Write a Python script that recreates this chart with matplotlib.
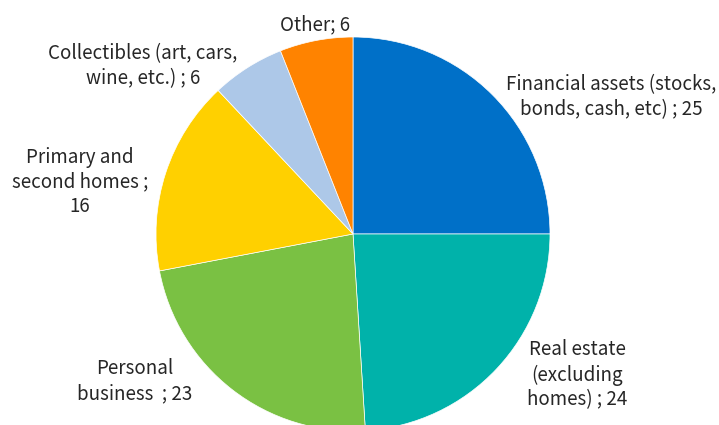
import matplotlib.pyplot as plt

labels = ["Financial assets (stocks,\nbonds, cash, etc) ; 25",
          "Real estate\n(excluding\nhomes) ; 24",
          "Personal\nbusiness  ; 23",
          "Primary and\nsecond homes ;\n16",
          "Collectibles (art, cars,\nwine, etc.) ; 6",
          "Other; 6"]
values = [25, 24, 23, 16, 6, 6]
colors = ["#0070C8", "#00B2AA", "#7AC143", "#FFD000", "#ADC8E8", "#FF8300"]

# label centres in pixels (from top-left)
label_px = [(611, 97), (577, 375), (135, 381), (80, 182), (143, 66), (315, 25)]

W, H = 719, 425
cx, cy, R = 353, 234, 197

plt.rcParams['font.family'] = ['Noto Sans CJK KR', 'DejaVu Sans']
fig = plt.figure(figsize=(W / 100, H / 100), dpi=100)
ax = fig.add_axes([0, 0, 1, 1])
ax.pie(values, colors=colors, startangle=90, counterclock=False, radius=1,
       wedgeprops=dict(edgecolor="white", linewidth=0.5))
ax.set_xlim(-cx / R, (W - cx) / R)
ax.set_ylim(-(H - cy) / R, cy / R)
ax.set_aspect('auto')
ax.axis('off')

for lab, (px, py) in zip(labels, label_px):
    ax.text((px - cx) / R, (cy - py) / R, lab, ha='center', va='center',
            fontsize=13.5, color='#262626', linespacing=1.25)

fig.savefig("out.png", dpi=100)
